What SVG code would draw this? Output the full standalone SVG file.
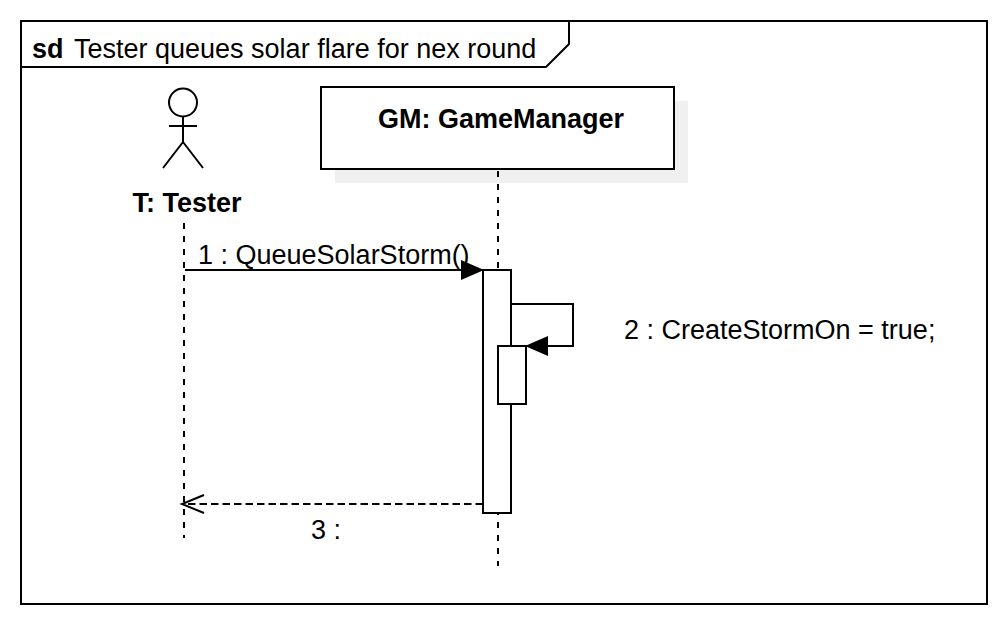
<svg xmlns="http://www.w3.org/2000/svg" width="1008" height="625" viewBox="0 0 1008 625">
<style>
text{font-family:"Liberation Sans",Arial,sans-serif;font-size:27px;fill:#000}
.b{font-weight:bold}
.s{fill:none;stroke:#000;stroke-width:2}
.w{fill:#fff;stroke:#000;stroke-width:2}
.d{fill:none;stroke:#000;stroke-width:2;stroke-dasharray:7.5 4}
.v{fill:none;stroke:#000;stroke-width:2;stroke-dasharray:6 7}
</style>
<defs>
<marker id="fill" markerUnits="userSpaceOnUse" markerWidth="24" markerHeight="20" refX="23" refY="10" orient="auto"><path d="M0 0L23 10L0 20Z" fill="#000"/></marker>
<marker id="open" markerUnits="userSpaceOnUse" markerWidth="26" markerHeight="22" refX="23" refY="11" orient="auto"><path d="M1 2L23 11L1 20" fill="none" stroke="#000" stroke-width="2"/></marker>
</defs>
<rect width="1008" height="625" fill="#fff"/>
<g id="frame"><rect x="21" y="21" width="966" height="583" class="s"/>
<path d="M21 67H546L569 44V21" class="s"/>
<text x="32" y="58" class="b">sd</text>
<text x="74" y="58">Tester queues solar flare for nex round</text></g>
<g id="tester">
<circle cx="183" cy="102.5" r="14" class="s"/>
<path d="M183 116V142M169 126H197M183 142L163 168M183 142L203 168" class="s"/>
<text x="187" y="212" class="b" text-anchor="middle">T: Tester</text>
<path d="M184 223V538" class="v"/></g>
<g id="gm">
<rect x="335" y="101" width="353" height="82" fill="#f0f0f0"/>
<rect x="321" y="87" width="353" height="82" class="w"/>
<text x="501" y="128" class="b" text-anchor="middle">GM: GameManager</text>
<path d="M498 171V566" class="v"/></g>
<g id="activation1"><rect x="483" y="270" width="28" height="243" class="w"/></g>
<g id="activation2"><rect x="498" y="346" width="28" height="58" class="w"/></g>
<g id="connectors">
<path d="M185 270H484" class="s" marker-end="url(#fill)"/>
<path d="M511 304H573V346H525" class="s" marker-end="url(#fill)"/>
<path d="M483 504H182" class="d" marker-end="url(#open)"/>
</g>
<text x="198" y="264">1 : QueueSolarStorm()</text>
<text x="624" y="339">2 : CreateStormOn = true;</text>
<text x="311" y="539">3 :</text>
</svg>
